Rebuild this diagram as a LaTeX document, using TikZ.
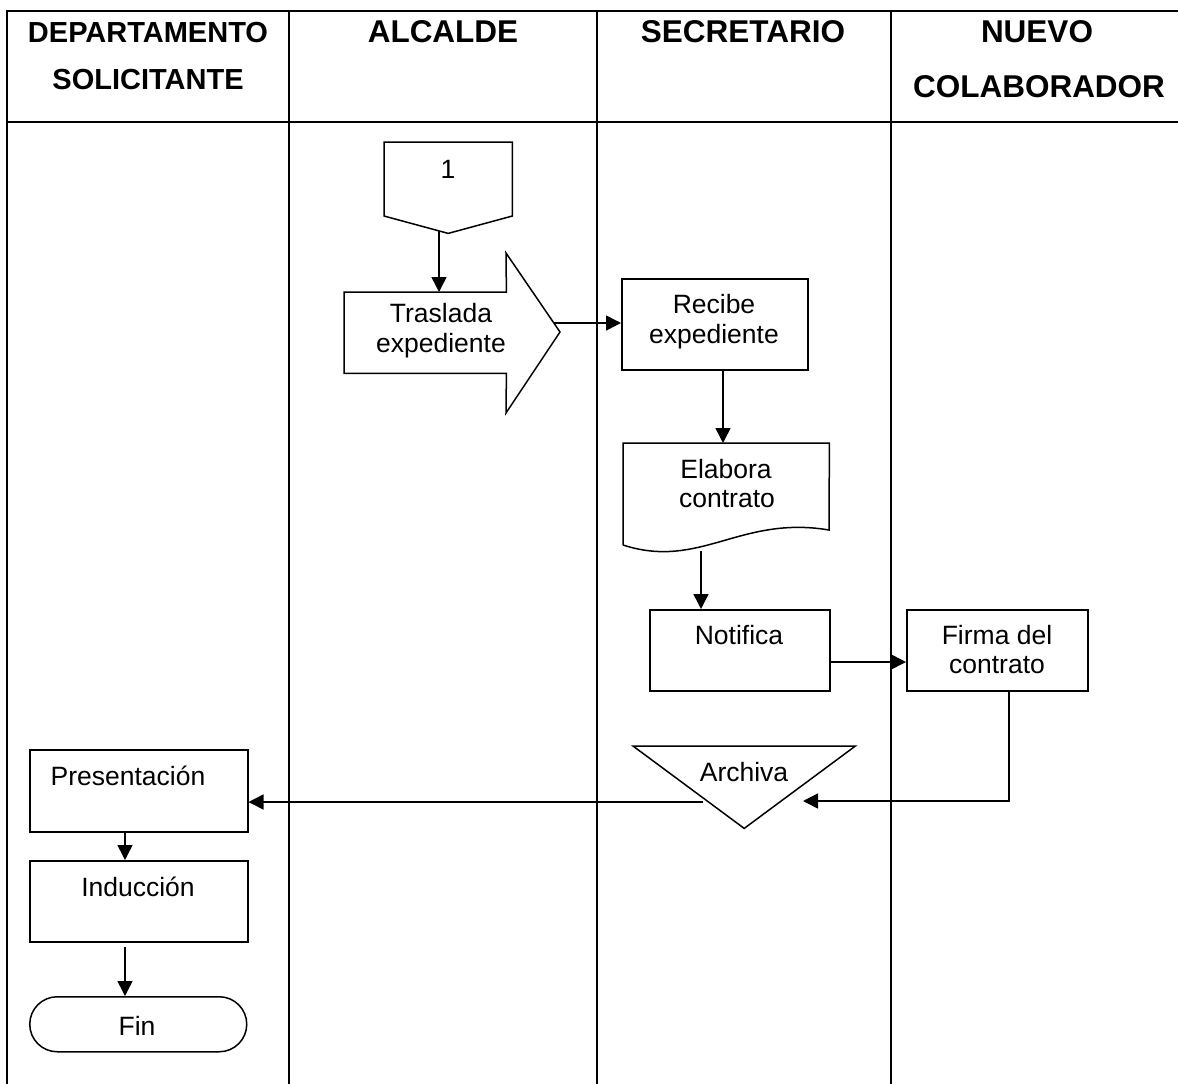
\documentclass[tikz,border=0pt]{standalone}
\usepackage{fontspec}
\setmainfont{Liberation Sans}
\usetikzlibrary{arrows.meta,calc}
\begin{document}
\begin{tikzpicture}[x=1pt,y=-1pt,
  grid/.style={line width=1.7pt},
  box/.style={draw,line width=1.5pt,rectangle,inner sep=0pt,anchor=north west},
  area/.style={rectangle,inner sep=0pt,anchor=north west},
  outline/.style={line width=1.5pt,line join=miter},
  flow/.style={line width=1.5pt,-{Triangle[length=15pt,width=15pt]}},
  headA/.style={font=\fontsize{29}{34}\selectfont\bfseries,anchor=base,inner sep=0pt},
  headB/.style={font=\fontsize{31.5}{36}\selectfont\bfseries,anchor=base,inner sep=0pt},
  txt/.style={font=\fontsize{26.5}{30}\selectfont,anchor=base,inner sep=0pt}]

\useasboundingbox (0,0) rectangle (1178,1084);
\fill[white] (0,0) rectangle (1178,1084);

% swimlane table
\draw[grid] (6,11) -- (1178,11);
\draw[grid] (6,122) -- (1178,122);
\draw[grid] (7,11) -- (7,1084);
\draw[grid] (289,11) -- (289,1084);
\draw[grid] (597,11) -- (597,1084);
\draw[grid] (891,11) -- (891,1084);

% lane titles
\node[headA] (h1a) at (148,42) {DEPARTAMENTO};
\node[headA] (h1b) at (148,89) {SOLICITANTE};
\node[headB] (h2) at (443,42) {ALCALDE};
\node[headB] (h3) at (743,42) {SECRETARIO};
\node[headB] (h4a) at (1037,42) {NUEVO};
\node[headB] (h4b) at (1039,97) {COLABORADOR};

% off-page connector
\node[area,minimum width=128pt,minimum height=91pt] (con1) at (384,142) {};
\draw[outline] (con1.north west) -- (con1.north east) -- ++(0,74)
  -- (con1.south) -- ($(con1.north west)+(0,74)$) -- cycle;
\node[txt] (t-con1) at (448,178) {1};

% block arrow: Traslada expediente
\node[area,minimum width=162pt,minimum height=81pt] (traslada) at (344,292) {};
\draw[outline] (traslada.north west) -- (traslada.north east) -- (506,253)
  -- (560,332) -- (506,413) -- (traslada.south east) -- (traslada.south west) -- cycle;
\node[txt] (t-tr1) at (441,322) {Traslada};
\node[txt] (t-tr2) at (441,352) {expediente};

% Recibe expediente
\node[box,minimum width=186pt,minimum height=91pt] (recibe) at (621,278) {};
\node[txt] (t-re1) at (714,313) {Recibe};
\node[txt] (t-re2) at (714,343) {expediente};

% document: Elabora contrato
\node[area,minimum width=206pt,minimum height=102pt] (elabora) at (623,443) {};
\draw[outline] (623,545) -- (elabora.north west) -- (elabora.north east) -- (829,530)
  .. controls (740,515) and (700,570) .. (623,545);
\node[txt] (t-el1) at (726,478) {Elabora};
\node[txt] (t-el2) at (727,507) {contrato};

% Notifica
\node[box,minimum width=180pt,minimum height=81pt] (notifica) at (649,609) {};
\node[txt] (t-no) at (739,644) {Notifica};

% Firma del contrato
\node[box,minimum width=181pt,minimum height=81pt] (firma) at (906,609) {};
\node[txt] (t-fi1) at (997,644) {Firma del};
\node[txt] (t-fi2) at (997,673) {contrato};

% storage: Archiva
\node[area,minimum width=222pt,minimum height=82pt] (archiva) at (633,746) {};
\draw[outline] (archiva.north west) -- (archiva.north east) -- (archiva.south) -- cycle;
\node[txt] (t-ar) at (744,781) {Archiva};

% Presentación, Inducción, Fin
\node[box,minimum width=218pt,minimum height=82pt] (presentacion) at (29,749) {};
\node[txt] (t-pr) at (128,785) {Presentación};
\node[box,minimum width=218pt,minimum height=81pt] (induccion) at (29,860) {};
\node[txt] (t-in) at (138,896) {Inducción};
\node[box,minimum width=217pt,minimum height=55pt,rounded corners=27.5pt] (fin) at (29,996) {};
\node[txt] (t-fin) at (137,1035) {Fin};

% connector points
\coordinate (c1out) at (439,231);
\coordinate (trtip) at (554,323);
\coordinate (xr) at (723,0);
\coordinate (xe) at (701,551);
\coordinate (yn) at (0,662);
\coordinate (xf) at (1009,801);
\coordinate (arin) at (803,801);
\coordinate (arout) at (703,802);
\coordinate (xl) at (125,0);

% connectors
\draw[flow] (c1out) -- (c1out |- traslada.north);
\draw[flow] (trtip) -- (trtip -| recibe.west);
\draw[flow] (recibe.south -| xr) -- (elabora.north -| xr);
\draw[flow] (xe) -- (xe |- notifica.north);
\draw[flow] (notifica.east |- yn) -- (firma.west |- yn);
\draw[flow] (firma.south -| xf) -- (xf) -- (arin);
\draw[flow] (arout) -- (arout -| presentacion.east);
\draw[flow] (presentacion.south -| xl) -- (induccion.north -| xl);
\draw[flow] ($(induccion.south -| xl)+(0,4)$) -- (fin.north -| xl);

\end{tikzpicture}
\end{document}
